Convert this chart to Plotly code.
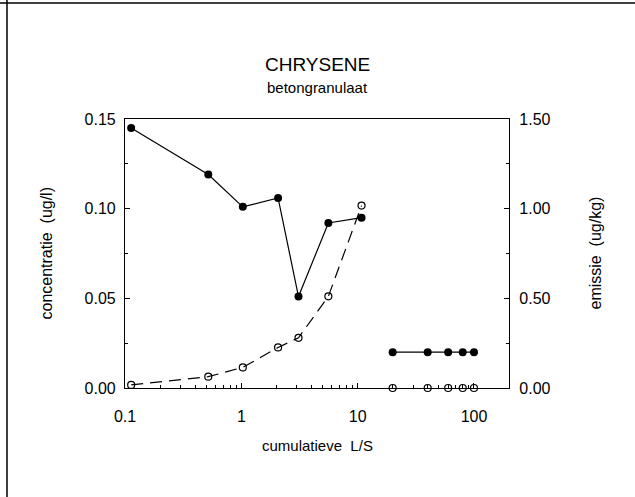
import plotly.graph_objects as go

# data
ls_a = [0.113, 0.52, 1.03, 2.07, 3.1, 5.6, 10.8]
conc_a = [0.145, 0.119, 0.101, 0.106, 0.051, 0.092, 0.095]
emis_a = [0.017, 0.063, 0.115, 0.226, 0.28, 0.511, 1.017]
ls_b = [20, 40, 60, 80, 100]
conc_b = [0.02, 0.02, 0.02, 0.02, 0.02]
emis_b = [0.0, 0.0, 0.0, 0.0, 0.0]

y_ticks = [0.0, 0.05, 0.10, 0.15]
y_labels = ["0.00", "0.05", "0.10", "0.15"]
y2_ticks = [0.0, 0.5, 1.0, 1.5]
y2_labels = ["0.00", "0.50", "1.00", "1.50"]
x_ticks = [0.1, 1, 10, 100]
x_labels = ["0.1", "1", "10", "100"]
x_minor = [0.2, 0.3, 0.4, 0.5, 0.6, 0.7, 0.8, 0.9,
           2, 3, 4, 5, 6, 7, 8, 9,
           20, 30, 40, 50, 60, 70, 80, 90]

FONT = "Liberation Sans"
W, H = 635, 497
L, R, T, B = 125, 126, 119, 109
pw, ph = W - L - R, H - T - B

def px(x):
    return (x - L) / pw

def py(y):
    return (H - B - y) / ph

fig = go.Figure()

# emission (open circles, dashed) on right axis
fig.add_trace(go.Scatter(x=ls_a, y=emis_a, yaxis="y2", mode="lines+markers",
                         line=dict(color="black", width=1.2, dash="12px,7px"),
                         marker=dict(symbol="circle-open", size=7, color="black",
                                     line=dict(width=1.2)),
                         cliponaxis=False, showlegend=False))
fig.add_trace(go.Scatter(x=ls_b, y=emis_b, yaxis="y2", mode="markers",
                         marker=dict(symbol="circle-open", size=7, color="black",
                                     line=dict(width=1.2)),
                         cliponaxis=False, showlegend=False))
# concentration (filled circles, solid) on left axis
fig.add_trace(go.Scatter(x=ls_a, y=conc_a, mode="lines+markers",
                         line=dict(color="black", width=1.2),
                         marker=dict(symbol="circle", size=8, color="black"),
                         cliponaxis=False, showlegend=False))
fig.add_trace(go.Scatter(x=ls_b, y=conc_b, mode="lines+markers",
                         line=dict(color="black", width=1.2),
                         marker=dict(symbol="circle", size=8, color="black"),
                         cliponaxis=False, showlegend=False))

axis_common = dict(showline=True, linecolor="black", linewidth=1.2, ticks="inside",
                   tickcolor="black", showgrid=False, zeroline=False,
                   tickfont=dict(family=FONT, size=16, color="black"))

fig.update_layout(
    width=W, height=H,
    margin=dict(l=L, r=R, t=T, b=B, pad=0),
    paper_bgcolor="white", plot_bgcolor="white",
    font=dict(family=FONT, color="black"),
    xaxis=dict(type="log", range=[-1, 2.30103], tickvals=x_ticks, ticktext=x_labels,
               ticklen=5, tickwidth=1, mirror=True, ticklabelstandoff=14,
               minor=dict(ticks="inside", ticklen=3, tickcolor="black", tickwidth=1,
                          tickvals=x_minor, showgrid=False),
               **axis_common),
    yaxis=dict(range=[0, 0.15], tickvals=y_ticks, ticktext=y_labels, ticklen=5,
               tickwidth=1, ticklabelstandoff=5,
               minor=dict(ticks="inside", ticklen=3, dtick=0.025, tickcolor="black",
                          showgrid=False),
               **axis_common),
    yaxis2=dict(range=[0, 1.5], overlaying="y", side="right", tickvals=y2_ticks,
                ticktext=y2_labels, ticklen=5, tickwidth=1, ticklabelstandoff=6,
                minor=dict(ticks="inside", ticklen=3, dtick=0.25, tickcolor="black",
                           showgrid=False),
                **axis_common),
)

ann = [
    dict(text="CHRYSENE", x=0.5, y=py(64.5), size=19),
    dict(text="betongranulaat", x=0.5, y=py(87), size=15),
    dict(text="cumulatieve  L/S", x=0.5, y=py(445), size=15),
]
for a in ann:
    fig.add_annotation(text=a["text"], xref="paper", yref="paper", x=a["x"], y=a["y"],
                       xanchor="center", yanchor="middle", showarrow=False,
                       font=dict(family=FONT, size=a["size"], color="black"))
fig.add_annotation(text="concentratie  (ug/l)", xref="paper", yref="paper",
                   x=px(46), y=0.5, textangle=-90, xanchor="center", yanchor="middle",
                   showarrow=False, font=dict(family=FONT, size=16, color="black"))
fig.add_annotation(text="emissie  (ug/kg)", xref="paper", yref="paper",
                   x=px(595), y=0.5, textangle=-90, xanchor="center", yanchor="middle",
                   showarrow=False, font=dict(family=FONT, size=16, color="black"))

# page frame lines (top and left)
fig.add_shape(type="line", xref="paper", yref="paper", x0=px(0), x1=px(W), y0=py(3), y1=py(3),
              line=dict(color="black", width=1.5))
fig.add_shape(type="line", xref="paper", yref="paper", x0=px(7), x1=px(7), y0=py(0), y1=py(H),
              line=dict(color="black", width=1.5))

fig.write_html("out.html")
